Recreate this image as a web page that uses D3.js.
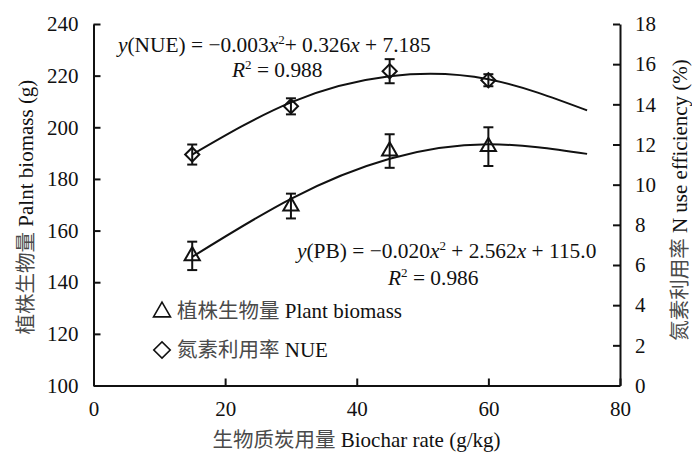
<!DOCTYPE html>
<html>
<head>
<meta charset="utf-8">
<script src="https://cdn.jsdelivr.net/npm/d3@7"></script>
<style>
  body { margin: 0; background: #fff; }
  text { font-family: "Liberation Serif", "Times New Roman", "DejaVu Serif", serif; fill: #111; }
  .cjk { font-family: "Noto Sans CJK SC", sans-serif; fill: #4a4a4a; font-size: 20.5px; }
</style>
</head>
<body>
<svg id="chart" width="692" height="454"></svg>
<script>
// Biochar rate (g/kg) of each treatment.
const rates = [15, 30, 45, 60];
// Plant biomass (g), left axis, mean and error.
const biomass = [150.2, 169.5, 190.8, 192.5];
const biomassErr = [5.5, 4.8, 6.5, 7.5];
// N use efficiency (%), right axis, mean and error.
const nue = [11.5, 13.9, 15.65, 15.2];
const nueErr = [0.5, 0.4, 0.6, 0.3];
// Fitted curves, points.
const fitRates = [15, 30, 45, 60, 75];
const biomassFit = [149.8, 172.3, 187.8, 193.4, 189.7];
const nueFit = [11.5, 14.1, 15.4, 15.25, 13.7];
// Tick labels.
const xTicks = [0, 20, 40, 60, 80];
const yLeftTicks = [100, 120, 140, 160, 180, 200, 220, 240];
const yRightTicks = [0, 2, 4, 6, 8, 10, 12, 14, 16, 18];

const svg = d3.select("#chart");
const fs = 21;
const serif = '"Liberation Serif", "Times New Roman", "DejaVu Serif", serif';

// Scales.
const x = d3.scaleLinear().domain([0, 80]).range([93.5, 620]);
const yL = d3.scaleLinear().domain([100, 240]).range([385.5, 24]);
const yR = d3.scaleLinear().domain([0, 18]).range([385.5, 24]);

/**
 * Axes (ticks point inward).
 */
const styleAxis = g => {
  g.attr("font-family", serif).attr("font-size", fs);
  g.select(".domain").attr("stroke", "#111").attr("stroke-width", 2);
  g.selectAll(".tick line").attr("stroke", "#111").attr("stroke-width", 2);
  g.selectAll(".tick text").attr("fill", "#111");
};

svg.append("g")
  .attr("transform", `translate(0, ${yL(100)})`)
  .call(d3.axisBottom(x).tickValues(xTicks).tickSizeInner(-7).tickSizeOuter(0).tickPadding(16))
  .call(styleAxis);

svg.append("g")
  .attr("transform", `translate(${x(0)}, 0)`)
  .call(d3.axisLeft(yL).tickValues(yLeftTicks).tickSizeInner(-7).tickSizeOuter(0).tickPadding(15))
  .call(styleAxis);

svg.append("g")
  .attr("transform", `translate(${x(80)}, 0)`)
  .call(d3.axisRight(yR).tickValues(yRightTicks).tickSizeInner(-7).tickSizeOuter(0).tickPadding(15))
  .call(styleAxis);

// Helper: text made of parts [string, kind]; a part after a superscript drops back down.
function richText(g, px, py, parts, anchor, size) {
  const t = g.append("text")
    .attr("x", px).attr("y", py)
    .attr("text-anchor", anchor || "start")
    .style("font-size", (size || fs) + "px");
  let raised = false;
  parts.forEach(([s, kind]) => {
    const sp = t.append("tspan").text(s);
    if (raised) { sp.attr("dy", 8); raised = false; }
    if (kind === "i") sp.style("font-style", "italic");
    if (kind === "cjk") sp.attr("class", "cjk");
    if (kind === "sup") {
      sp.style("font-size", "13px").attr("dy", -8);
      raised = true;
    }
  });
  return t;
}

/**
 * Axis titles.
 */
richText(svg, 356.5, 447, [["生物质炭用量", "cjk"], [" Biochar rate (g/kg)"]], "middle");

const lt = svg.append("g").attr("transform", "translate(33, 207) rotate(-90)");
richText(lt, 0, 0, [["植株生物量", "cjk"], [" Palnt biomass (g)"]], "middle");

const rt = svg.append("g").attr("transform", "translate(687, 200) rotate(-90)");
richText(rt, 0, 0, [["氮素利用率", "cjk"], [" N use efficiency (%)"]], "middle");

/**
 * Fitted curves.
 */
const pbLine = d3.line()
  .x((d, i) => x(fitRates[i]))
  .y(d => yL(d))
  .curve(d3.curveNatural);
const nueLine = d3.line()
  .x((d, i) => x(fitRates[i]))
  .y(d => yR(d))
  .curve(d3.curveNatural);

svg.append("path").attr("d", pbLine(biomassFit))
  .attr("fill", "none").attr("stroke", "#111").attr("stroke-width", 2);
svg.append("path").attr("d", nueLine(nueFit))
  .attr("fill", "none").attr("stroke", "#111").attr("stroke-width", 2);

/**
 * Points with error bars.
 */
const tri = d3.symbol().type(d3.symbolTriangle).size(100);
const dia = d3.symbol().type(d3.symbolSquare).size(100);

function errorBars(vals, errs, y) {
  const g = svg.append("g").attr("stroke", "#111").attr("stroke-width", 2);
  rates.forEach((r, i) => {
    const cx = x(r), top = y(vals[i] + errs[i]), bot = y(vals[i] - errs[i]);
    g.append("line").attr("x1", cx).attr("x2", cx).attr("y1", top).attr("y2", bot);
    g.append("line").attr("x1", cx - 5).attr("x2", cx + 5).attr("y1", top).attr("y2", top);
    g.append("line").attr("x1", cx - 5).attr("x2", cx + 5).attr("y1", bot).attr("y2", bot);
  });
}
errorBars(biomass, biomassErr, yL);
errorBars(nue, nueErr, yR);

svg.selectAll(".pb")
  .data(biomass)
  .join("path")
  .attr("transform", (d, i) => `translate(${x(rates[i])}, ${yL(d)})`)
  .attr("d", tri)
  .attr("fill", "none").attr("stroke", "#111").attr("stroke-width", 2);

svg.selectAll(".nue")
  .data(nue)
  .join("path")
  .attr("transform", (d, i) => `translate(${x(rates[i])}, ${yR(d)}) rotate(45)`)
  .attr("d", dia)
  .attr("fill", "none").attr("stroke", "#111").attr("stroke-width", 2);

/**
 * Equations.
 */
richText(svg, 118, 52, [["y", "i"], ["(NUE) = −0.003"], ["x", "i"], ["2", "sup"], ["+ 0.326"], ["x", "i"], [" + 7.185"]], "start", 21.4);
richText(svg, 232, 77, [["R", "i"], ["2", "sup"], [" = 0.988"]], "start", 21.4);
richText(svg, 297, 258, [["y", "i"], ["(PB) = −0.020"], ["x", "i"], ["2", "sup"], [" + 2.562"], ["x", "i"], [" + 115.0"]], "start", 21.4);
richText(svg, 388, 285, [["R", "i"], ["2", "sup"], [" = 0.986"]], "start", 21.4);

/**
 * Legend.
 */
svg.append("path")
  .attr("transform", "translate(162, 312)")
  .attr("d", d3.symbol().type(d3.symbolTriangle).size(125)())
  .attr("fill", "none").attr("stroke", "#111").attr("stroke-width", 1.6);
richText(svg, 177, 318, [["植株生物量", "cjk"], [" Plant biomass"]]);

svg.append("path")
  .attr("transform", "translate(162, 350) rotate(45)")
  .attr("d", d3.symbol().type(d3.symbolSquare).size(135)())
  .attr("fill", "none").attr("stroke", "#111").attr("stroke-width", 1.6);
richText(svg, 177, 357, [["氮素利用率", "cjk"], [" NUE"]]);
</script>
</body>
</html>
